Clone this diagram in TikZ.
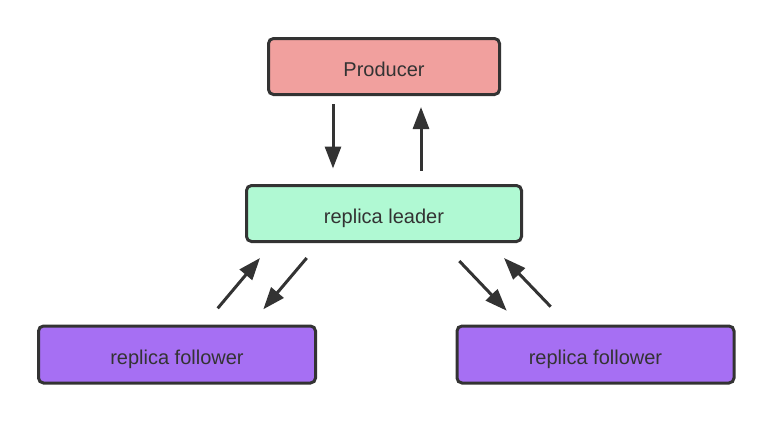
\documentclass[tikz,border=0pt]{standalone}
\usepackage{fontspec}
\setmainfont{Liberation Sans}
\usetikzlibrary{arrows.meta,positioning,calc}
\definecolor{inkgrey}{RGB}{51,51,51}
\definecolor{prodred}{RGB}{241,160,158}
\definecolor{leadmint}{RGB}{176,249,211}
\definecolor{follpurple}{RGB}{166,111,243}
\tikzset{
  box/.style={rectangle, rounded corners=5pt, draw=inkgrey, line width=3pt,
              align=center, text=inkgrey, font=\fontsize{20}{24}\selectfont,
              text height=19pt, text depth=0pt},
  prodbox/.style={box, fill=prodred, minimum width=231pt, minimum height=56pt},
  leadbox/.style={box, fill=leadmint, minimum width=275pt, minimum height=56pt},
  follbox/.style={box, fill=follpurple, minimum width=277pt, minimum height=57pt},
  ar/.style={-{Triangle[length=22pt,width=16pt]}, line width=3pt, draw=inkgrey},
}

\begin{document}
\begin{tikzpicture}[x=1pt,y=-1pt]
\useasboundingbox (0,0) rectangle (772,421);

% ================= boxes =================
\node[prodbox] (producer) at (384,66.5) {Producer};
\node[leadbox] (leader)   at (384,213.5) {replica leader};
\node[follbox] (follL)    at (177,354.5) {replica follower};
\node[follbox] (follR)    at (595.5,354.5) {replica follower};

% ================= producer <-> leader =================
\draw[ar] ($(producer.south)+(-51,8)$) -- ($(leader.north)+(-51,-15.5)$);
\draw[ar] ($(leader.north)+(37,-13.5)$) -- ($(producer.south)+(37,11)$);

% ================= leader <-> followers =================
\draw[ar] ($(follL.north)+(40.7,-16.2)$) -- ($(leader.south)+(-124,15)$);
\draw[ar] ($(leader.south)+(-77.3,15)$) -- ($(follL.north)+(86.3,-15.2)$);
\draw[ar] ($(leader.south)+(75.3,18)$) -- ($(follR.north)+(-88.8,-13.8)$);
\draw[ar] ($(follR.north)+(-44.8,-17.8)$) -- ($(leader.south)+(120,15)$);

\end{tikzpicture}
\end{document}
